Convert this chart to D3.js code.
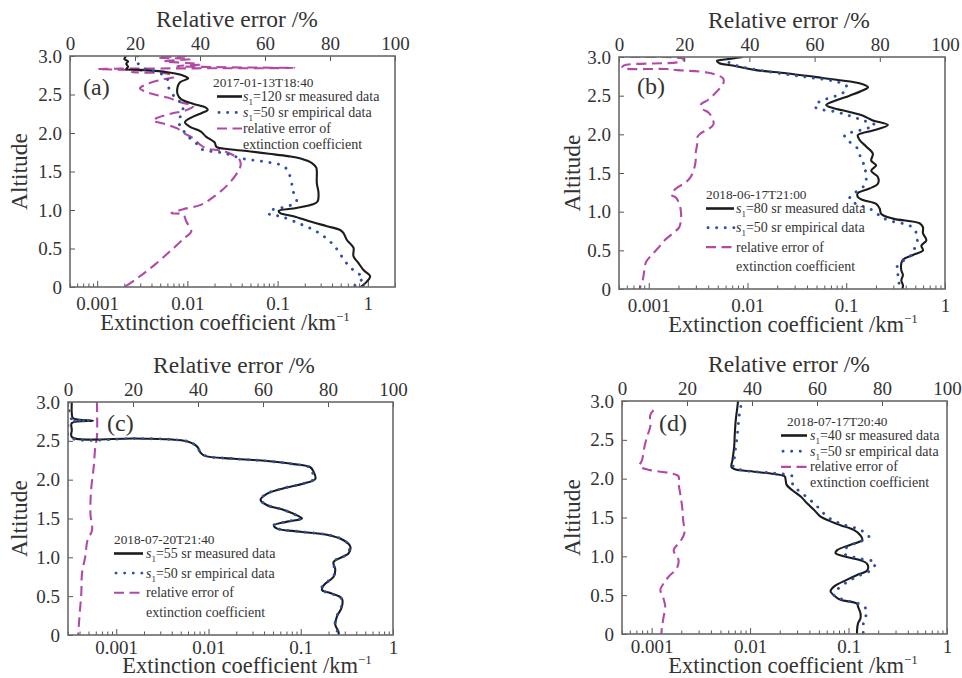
<!DOCTYPE html>
<meta charset="utf-8">
<style>
body { margin: 0; background: #fff; }
text { font-family: "Liberation Serif", "DejaVu Serif", serif; fill: #333; }
</style>
<svg width="962" height="678"></svg>
<script src="https://d3js.org/d3.v7.min.js"></script>
<script>

// [altitude km, extinction km^-1]
var measA = [[3.00,0.0021],[2.96,0.0020],[2.93,0.0022],[2.90,0.0021],[2.86,0.0022],[2.83,0.0021],[2.82,0.0030],[2.79,0.0060],[2.75,0.0088],[2.71,0.0102],[2.66,0.0083],[2.60,0.0078],[2.50,0.0078],[2.44,0.0085],[2.38,0.0115],[2.33,0.0160],[2.30,0.0168],[2.26,0.0145],[2.20,0.0110],[2.14,0.0094],[2.08,0.0107],[2.02,0.0140],[1.95,0.0162],[1.88,0.0200],[1.82,0.0210],[1.79,0.029],[1.76,0.050],[1.73,0.080],[1.70,0.13],[1.67,0.18],[1.61,0.240],[1.55,0.268],[1.50,0.272],[1.35,0.272],[1.22,0.284],[1.11,0.277],[1.07,0.240],[1.02,0.150],[0.99,0.103],[0.96,0.107],[0.92,0.150],[0.85,0.230],[0.79,0.352],[0.74,0.494],[0.70,0.538],[0.61,0.586],[0.51,0.693],[0.40,0.693],[0.31,0.788],[0.22,0.896],[0.14,1.06],[0.07,0.975],[0.00,0.83]];
var empA = [[3.00,0.0028],[2.95,0.0027],[2.89,0.0029],[2.83,0.0034],[2.79,0.0046],[2.72,0.0059],[2.59,0.0062],[2.46,0.0073],[2.36,0.0089],[2.26,0.0087],[2.14,0.0079],[2.08,0.0086],[1.97,0.0098],[1.88,0.0122],[1.79,0.0144],[1.74,0.0252],[1.67,0.040],[1.62,0.079],[1.57,0.116],[1.50,0.131],[1.35,0.143],[1.24,0.149],[1.11,0.162],[1.05,0.131],[0.98,0.079],[0.94,0.082],[0.92,0.106],[0.83,0.169],[0.72,0.270],[0.55,0.413],[0.31,0.58],[0.20,0.72],[0.12,0.89],[0.03,0.72],[0.00,0.73]];
// [altitude km, relative error %]
var errA = [[3.00,36],[2.98,27],[2.96,37],[2.93,29],[2.91,36],[2.89,40],[2.87,33],[2.855,45],[2.845,69],[2.83,8.5],[2.81,22],[2.79,19],[2.77,30],[2.73,32],[2.69,28],[2.64,24],[2.58,21.5],[2.54,23],[2.50,26],[2.46,30],[2.40,34],[2.35,38],[2.30,36],[2.25,31],[2.20,27],[2.16,25.5],[2.12,29],[2.06,33],[2.00,35],[1.93,38],[1.85,40],[1.80,42],[1.76,47.6],[1.65,52.2],[1.58,52.5],[1.50,51.7],[1.33,48.6],[1.18,44.5],[1.07,40.4],[1.01,34.8],[0.96,31.2],[0.94,34.8],[0.85,35.8],[0.72,37.3],[0.64,35.3],[0.48,31.2],[0.29,26.1],[0.12,20.9],[0.00,16.8]];

var measB = [[3.00,0.0090],[2.97,0.0061],[2.95,0.0049],[2.92,0.0052],[2.89,0.0071],[2.83,0.0122],[2.79,0.0247],[2.74,0.0497],[2.70,0.0855],[2.66,0.136],[2.61,0.166],[2.57,0.148],[2.50,0.108],[2.44,0.0793],[2.38,0.0627],[2.34,0.0733],[2.29,0.108],[2.24,0.148],[2.18,0.186],[2.12,0.264],[2.05,0.186],[1.99,0.131],[1.93,0.136],[1.84,0.160],[1.75,0.186],[1.66,0.179],[1.60,0.201],[1.53,0.179],[1.45,0.209],[1.36,0.209],[1.30,0.172],[1.24,0.131],[1.19,0.131],[1.15,0.148],[1.10,0.201],[1.04,0.218],[0.97,0.226],[0.91,0.297],[0.85,0.553],[0.80,0.598],[0.72,0.598],[0.63,0.647],[0.56,0.576],[0.50,0.598],[0.44,0.474],[0.38,0.375],[0.33,0.361],[0.24,0.361],[0.18,0.375],[0.11,0.361],[0.05,0.375],[0.00,0.370]];
var empB = [[2.93,0.0065],[2.89,0.0077],[2.83,0.0132],[2.77,0.0267],[2.73,0.0459],[2.69,0.0733],[2.63,0.100],[2.57,0.100],[2.50,0.0793],[2.44,0.0580],[2.38,0.0478],[2.34,0.0497],[2.29,0.0793],[2.24,0.108],[2.18,0.148],[2.12,0.194],[2.05,0.136],[1.99,0.0962],[1.92,0.104],[1.84,0.126],[1.75,0.136],[1.66,0.142],[1.57,0.160],[1.49,0.153],[1.40,0.160],[1.32,0.148],[1.24,0.121],[1.17,0.108],[1.10,0.126],[1.04,0.172],[0.95,0.218],[0.89,0.264],[0.82,0.438],[0.76,0.493],[0.67,0.532],[0.59,0.512],[0.53,0.493],[0.46,0.474],[0.39,0.405],[0.33,0.347],[0.26,0.321],[0.18,0.334],[0.09,0.342],[0.03,0.342]];
var errB = [[3.00,3.5],[2.975,20],[2.94,19],[2.89,1.5],[2.86,1],[2.845,14.5],[2.83,18],[2.80,27],[2.76,30.5],[2.72,32],[2.66,32],[2.60,31],[2.53,29.5],[2.45,27.5],[2.38,25],[2.33,25.5],[2.28,27.5],[2.22,28.5],[2.13,29],[2.07,27.5],[2.01,25],[1.96,24],[1.88,24],[1.75,23.5],[1.65,23.5],[1.55,23],[1.45,22],[1.38,20.5],[1.30,17.5],[1.22,16],[1.18,17.5],[1.10,18.5],[1.00,19],[0.90,19],[0.80,18.5],[0.72,16.5],[0.63,14],[0.53,12],[0.43,9.8],[0.35,8.3],[0.25,7.8],[0.12,7.3],[0.00,6.3]];

var measC = [[3.00,0.00033],[2.85,0.00033],[2.79,0.00034],[2.76,0.00056],[2.73,0.00033],[2.64,0.00033],[2.55,0.00033],[2.53,0.00158],[2.52,0.00361],[2.49,0.00593],[2.42,0.00761],[2.36,0.00806],[2.31,0.00898],[2.27,0.0189],[2.24,0.0433],[2.20,0.0840],[2.16,0.127],[2.10,0.138],[2.01,0.144],[1.95,0.108],[1.89,0.0656],[1.82,0.0433],[1.74,0.0367],[1.67,0.0433],[1.61,0.0656],[1.54,0.0912],[1.50,0.103],[1.46,0.0712],[1.41,0.0512],[1.37,0.0556],[1.33,0.0991],[1.29,0.192],[1.22,0.291],[1.14,0.344],[1.05,0.330],[0.94,0.227],[0.84,0.237],[0.75,0.227],[0.64,0.177],[0.58,0.170],[0.54,0.209],[0.47,0.279],[0.36,0.279],[0.24,0.247],[0.13,0.237],[0.04,0.257],[0.00,0.257]];
var empC = [[3.00,0.00031],[2.85,0.00031],[2.78,0.00033],[2.76,0.00052],[2.73,0.00031],[2.55,0.00031],[2.53,0.0016],[2.52,0.0037],[2.49,0.0060],[2.42,0.0077],[2.38,0.0079],[2.31,0.0092],[2.27,0.0190],[2.24,0.0430],[2.20,0.0830],[2.16,0.124],[2.10,0.133],[2.01,0.140],[1.95,0.106],[1.89,0.0650],[1.82,0.0430],[1.74,0.0365],[1.67,0.0440],[1.61,0.0660],[1.54,0.0900],[1.50,0.100],[1.46,0.0700],[1.41,0.0505],[1.37,0.0560],[1.33,0.100],[1.29,0.195],[1.22,0.295],[1.14,0.335],[1.05,0.325],[0.94,0.225],[0.84,0.235],[0.75,0.225],[0.64,0.175],[0.58,0.165],[0.54,0.205],[0.47,0.275],[0.36,0.275],[0.24,0.245],[0.13,0.235],[0.04,0.250],[0.00,0.250]];
var errC = [[3.00,8.9],[2.55,8.9],[2.42,8.4],[2.16,7.9],[1.86,7.1],[1.56,6.9],[1.35,7.4],[1.22,6.0],[1.01,5.3],[0.79,4.3],[0.54,4.1],[0.28,3.6],[0.11,3.3],[0.00,3.1]];

var measD = [[3.00,0.00755],[2.93,0.00744],[2.76,0.00716],[2.59,0.00700],[2.41,0.00689],[2.24,0.00662],[2.15,0.00647],[2.12,0.0070],[2.09,0.0110],[2.06,0.0175],[2.03,0.0224],[1.98,0.0230],[1.92,0.0235],[1.85,0.0269],[1.77,0.0327],[1.68,0.0381],[1.60,0.0445],[1.51,0.0520],[1.45,0.0657],[1.40,0.0830],[1.34,0.113],[1.27,0.132],[1.21,0.138],[1.15,0.105],[1.08,0.0767],[1.04,0.0738],[1.00,0.0897],[0.95,0.132],[0.90,0.155],[0.82,0.155],[0.76,0.122],[0.70,0.0968],[0.61,0.0710],[0.55,0.0657],[0.48,0.0738],[0.44,0.0830],[0.39,0.122],[0.35,0.125],[0.27,0.132],[0.20,0.132],[0.14,0.125],[0.05,0.122],[0.00,0.122]];
var empD = [[2.93,0.00804],[2.80,0.00774],[2.58,0.00744],[2.41,0.00716],[2.24,0.00689],[2.15,0.00678],[2.10,0.0094],[2.07,0.0175],[2.03,0.0269],[1.94,0.0269],[1.88,0.0290],[1.81,0.0339],[1.72,0.0412],[1.62,0.0500],[1.51,0.0608],[1.42,0.0830],[1.34,0.132],[1.25,0.161],[1.19,0.132],[1.12,0.0968],[1.04,0.0897],[0.97,0.132],[0.92,0.188],[0.82,0.167],[0.76,0.132],[0.67,0.0968],[0.57,0.0767],[0.50,0.0710],[0.44,0.0897],[0.37,0.138],[0.29,0.155],[0.18,0.143],[0.09,0.141],[0.00,0.141]];
var errD = [[2.88,9.7],[2.82,8.7],[2.67,8.7],[2.54,7.7],[2.37,6.7],[2.24,6.2],[2.16,5.4],[2.11,8.7],[2.07,14.9],[2.03,17.4],[1.94,17.4],[1.81,17.9],[1.64,18.5],[1.47,18.8],[1.30,19.2],[1.19,17.9],[1.08,15.9],[0.95,17.4],[0.85,16.9],[0.74,14.4],[0.65,12.8],[0.57,11.8],[0.48,12.6],[0.35,13.3],[0.22,12.8],[0.09,12.3],[0.00,12.1]];

var altTicks = [0, 0.5, 1, 1.5, 2, 2.5, 3];
var errTicks = [0, 20, 40, 60, 80, 100];
var dates = ["2017-01-13T18:40", "2018-06-17T21:00", "2018-07-20T21:40", "2018-07-17T20:40"];
var lidarRatios = ["120", "80", "55", "40"];
var labels = ["(a)", "(b)", "(c)", "(d)"];

var measColor = "#1c1c1c";
var empColor = "#2e50a6";
var errColor = "#b24aa5";
var frameColor = "#6a6a6a";
var tickFont = 19;
var titleFont = 23.5;
var botTitleFont = 22.5;

var svg = d3.select("svg");

// layout of the four panels
var panels = [
  {x: 70, y: 56, w: 325, h: 231, xmin: 0.0005, xmax: 2, meas: measA, emp: empA, err: errA,
   topX: 237, botX: 225, botY: 330, botPad: 10, altX: 27, lab: [83, 95],
   leg: {dateX: 213, lx: 217, llen: 25, tx: 243, y0: 101, step: 16}},
  {x: 619, y: 57, w: 326, h: 232, xmin: 0.0005, xmax: 1, meas: measB, emp: empB, err: errB,
   topX: 789, botX: 793, botY: 332, botPad: 10, altX: 580, lab: [637, 94],
   leg: {dateX: 706, lx: 706, llen: 28, tx: 736, y0: 213, step: 19.3}},
  {x: 68, y: 402, w: 325, h: 233, xmin: 0.0003, xmax: 1, meas: measC, emp: empC, err: errC,
   topX: 234, botX: 247, botY: 673, botPad: 6, altX: 27, lab: [107, 431],
   leg: {dateX: 114, lx: 114, llen: 29, tx: 146, y0: 558, step: 19.6}},
  {x: 622, y: 401, w: 325, h: 233, xmin: 0.0005, xmax: 1, meas: measD, emp: empD, err: errD,
   topX: 789, botX: 793, botY: 673, botPad: 6, altX: 580, lab: [659, 431],
   leg: {dateX: 787, lx: 781, llen: 26, tx: 810, y0: 440, step: 15.7}}
];

function isDecade(d) {
  var l = Math.log10(d);
  return Math.abs(l - Math.round(l)) < 1e-6;
}

function styleAxis(g) {
  g.attr("font-size", tickFont)
   .attr("font-family", '"Liberation Serif", serif')
   .attr("color", "#555");
  g.select(".domain").remove();
  g.selectAll("text").style("fill", "#333");
}

panels.forEach(function(p, i) {
  var x = d3.scaleLog().domain([p.xmin, p.xmax]).range([0, p.w]);
  var xe = d3.scaleLinear().domain([0, 100]).range([0, p.w]);
  var y = d3.scaleLinear().domain([0, 3]).range([p.h, 0]);

  var g = svg.append("g").attr("transform", "translate(" + p.x + "," + p.y + ")");

  g.append("clipPath").attr("id", "clip" + i)
    .append("rect").attr("width", p.w).attr("height", p.h);

  var plot = g.append("g").attr("clip-path", "url(#clip" + i + ")");

  var extLine = d3.line()
      .x(function(d) { return x(d[1]); })
      .y(function(d) { return y(d[0]); })
      .curve(d3.curveCatmullRom.alpha(0.5));
  var errLine = d3.line()
      .x(function(d) { return xe(d[1]); })
      .y(function(d) { return y(d[0]); })
      .curve(d3.curveCatmullRom.alpha(0.5));

  plot.append("path").datum(p.err)
    .attr("d", errLine)
    .attr("fill", "none")
    .attr("stroke", errColor)
    .attr("stroke-width", 2.1)
    .attr("stroke-dasharray", "10 5.5");

  plot.append("path").datum(p.meas)
    .attr("d", extLine)
    .attr("fill", "none")
    .attr("stroke", measColor)
    .attr("stroke-width", 2.1);

  plot.append("path").datum(p.emp)
    .attr("d", extLine)
    .attr("fill", "none")
    .attr("stroke", empColor)
    .attr("stroke-width", 2.9)
    .attr("stroke-linecap", "round")
    .attr("stroke-dasharray", "0.1 8.5");

  // axes, ticks pointing inward
  var bottom = g.append("g").attr("transform", "translate(0," + p.h + ")")
    .call(d3.axisBottom(x)
      .tickValues(x.ticks())
      .tickSize(-6)
      .tickPadding(p.botPad)
      .tickFormat(function(d) { return isDecade(d) ? String(d) : ""; }));
  styleAxis(bottom);
  bottom.selectAll(".tick line")
    .attr("y2", function(d) { return isDecade(d) ? -6 : -3.5; });

  var top = g.append("g")
    .call(d3.axisTop(xe).tickValues(errTicks).tickSize(-5).tickPadding(6));
  styleAxis(top);

  var left = g.append("g")
    .call(d3.axisLeft(y).tickValues(altTicks).tickSize(-5).tickPadding(8)
      .tickFormat(function(d) { return d === 0 ? "0" : d.toFixed(1); }));
  styleAxis(left);

  g.append("rect")
    .attr("width", p.w).attr("height", p.h)
    .attr("fill", "none")
    .attr("stroke", frameColor)
    .attr("stroke-width", 1.6);

  // titles
  svg.append("text")
    .attr("x", p.topX).attr("y", p.y - 29)
    .attr("text-anchor", "middle")
    .attr("font-size", titleFont)
    .text("Relative error /%");

  var bt = svg.append("text")
    .attr("x", p.botX).attr("y", p.botY)
    .attr("text-anchor", "middle")
    .attr("font-size", botTitleFont)
    .text("Extinction coefficient /km");
  bt.append("tspan").attr("font-size", 13).attr("dy", -9).text("\u22121");

  svg.append("text")
    .attr("transform", "translate(" + p.altX + "," + (p.y + p.h / 2) + ") rotate(-90)")
    .attr("text-anchor", "middle")
    .attr("font-size", titleFont)
    .text("Altitude");

  svg.append("text")
    .attr("x", p.lab[0]).attr("y", p.lab[1])
    .attr("font-size", 24)
    .text(labels[i]);

  // legend
  var L = p.leg;
  svg.append("text")
    .attr("x", L.dateX).attr("y", L.y0 - 14)
    .attr("font-size", 13.3)
    .text(dates[i]);

  var entries = [
    {color: measColor, width: 2.6, dash: null, cap: "butt"},
    {color: empColor, width: 2.9, dash: "0.1 8.5", cap: "round"},
    {color: errColor, width: 2.1, dash: "10 5.5", cap: "butt"}
  ];
  entries.forEach(function(e, k) {
    var by = L.y0 + k * L.step;
    svg.append("line")
      .attr("x1", L.lx + (k === 1 ? 2 : 0)).attr("x2", L.lx + L.llen)
      .attr("y1", by - 4.5).attr("y2", by - 4.5)
      .attr("stroke", e.color)
      .attr("stroke-width", e.width)
      .attr("stroke-linecap", e.cap)
      .attr("stroke-dasharray", e.dash);
  });

  function sLabel(by, num, rest) {
    var t = svg.append("text").attr("x", L.tx).attr("y", by).attr("font-size", 14);
    t.append("tspan").attr("font-style", "italic").text("s");
    t.append("tspan").attr("font-size", 9).attr("dy", 4).text("1");
    t.append("tspan").attr("dy", -4).text("=" + num + " sr " + rest);
  }
  sLabel(L.y0, lidarRatios[i], "measured data");
  sLabel(L.y0 + L.step, "50", "empirical data");
  svg.append("text").attr("x", L.tx).attr("y", L.y0 + 2 * L.step)
    .attr("font-size", 14).text("relative error of");
  svg.append("text").attr("x", L.tx).attr("y", L.y0 + 3 * L.step)
    .attr("font-size", 14).text("extinction coefficient");
});

</script>
